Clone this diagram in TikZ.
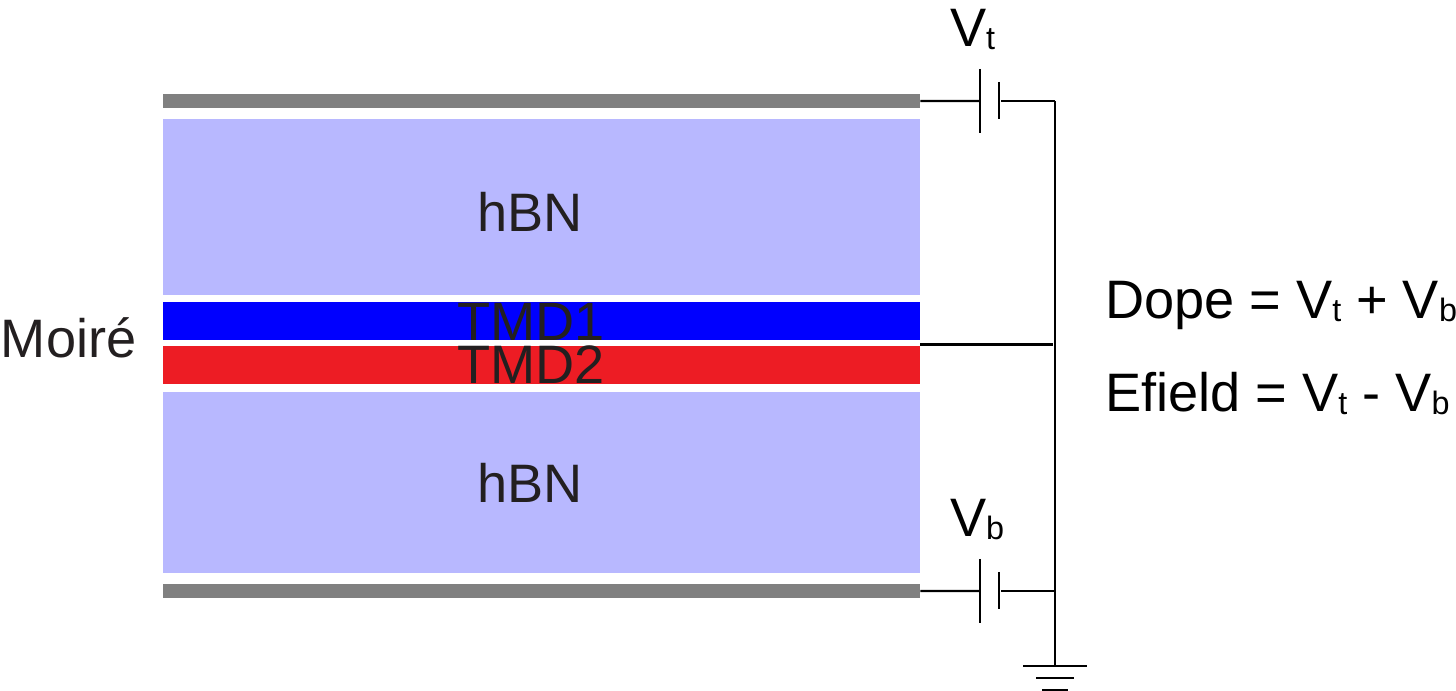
\documentclass[tikz,border=0pt]{standalone}
\usepackage{fontspec}
\setmainfont{Liberation Sans}
\usepackage{tikz}

\definecolor{hbnBlue}{RGB}{184,184,255}
\definecolor{gateGray}{RGB}{128,128,128}
\definecolor{tmdRed}{RGB}{237,28,36}
\definecolor{inkDark}{RGB}{35,31,32}

\newcommand{\lowtxt}[1]{\raisebox{-0.6pt}{\fontsize{9.2}{12}\selectfont #1}}

\tikzset{
    layer/.style={inner sep=0pt, outer sep=0pt, minimum width=7.57cm, anchor=north west},
    bigtxt/.style={inner sep=0pt, outer sep=0pt, anchor=base, font=\fontsize{15.4}{18}\selectfont},
    wire/.style={line width=0.6pt, black},
    bus/.style={line width=0.75pt, black}
}

\begin{document}
\begin{tikzpicture}[x=0.01cm,y=-0.01cm]
        \useasboundingbox (0,0) rectangle (1456,691);

        % layers
        \node[layer, fill=gateGray, minimum height=0.14cm] (gateT) at (163,94) {};
        \node[layer, fill=hbnBlue, minimum height=1.76cm] (hbnT) at (163,119) {};
        \node[layer, fill=blue, minimum height=0.38cm] (tmdA) at (163,302) {};
        \node[layer, fill=tmdRed, minimum height=0.38cm] (tmdB) at (163,346) {};
        \node[layer, fill=hbnBlue, minimum height=1.81cm] (hbnB) at (163,392) {};
        \node[layer, fill=gateGray, minimum height=0.14cm] (gateB) at (163,584) {};

        \node[bigtxt, text=inkDark] (hbnTtxt) at (530,232) {hBN};
        \node[bigtxt, text=inkDark] (tmdAtxt) at (531,341) {TMD1};
        \node[bigtxt, text=inkDark] (tmdBtxt) at (531,384) {TMD2};
        \node[bigtxt, text=inkDark] (hbnBtxt) at (530,503) {hBN};
        \node[bigtxt, text=inkDark, anchor=base west] (moire) at (1,358) {Moiré};

        % batteries
        \coordinate (longTu) at (980,69);
        \coordinate (longTd) at (980,133);
        \coordinate (shortTu) at (999,82);
        \coordinate (shortTd) at (999,119);
        \coordinate (shortTm) at (1001,101);
        \coordinate (longTm) at (980,101);
        \coordinate (longBu) at (980,559);
        \coordinate (longBd) at (980,623);
        \coordinate (shortBu) at (999,572);
        \coordinate (shortBd) at (999,609);
        \coordinate (shortBm) at (1001,591);
        \coordinate (longBm) at (980,591);

        \coordinate (busT) at (1055,101);
        \coordinate (busM) at (1053,344.5);
        \coordinate (busB) at (1055,591);
        \coordinate (gnd) at (1055,666);

        \draw[wire] (longTu) -- (longTd);
        \draw[wire] (shortTu) -- (shortTd);
        \draw[wire] (longBu) -- (longBd);
        \draw[wire] (shortBu) -- (shortBd);

        \draw[wire] (gateT.east) -- (longTm);
        \draw[wire] (gateB.east) -- (longBm);
        \draw[wire] (shortBm) -- (busB);
        \draw[wire] (tmdA.south east |- busM) -- (busM);
        \draw[wire] (shortTm) -- (busT);
        \draw[bus] (busT) -- (gnd);

        % ground
        \draw[bus] (1023,666) coordinate (gndA) -- (1087,666) coordinate (gndB);
        \draw[bus] (1036,678) coordinate (gndC) -- (1074,678) coordinate (gndD);
        \draw[bus] (1042,690) coordinate (gndE) -- (1068,690) coordinate (gndF);

        % labels
        \node[bigtxt, anchor=base west] (vt) at (950,47) {V\lowtxt{t}};
        \node[bigtxt, anchor=base west] (vb) at (950,537) {V\lowtxt{b}};
        \node[bigtxt, anchor=base west] (dope) at (1105,319) {Dope = V\lowtxt{t} + V\lowtxt{b}};
        \node[bigtxt, anchor=base west] (efield) at (1105,412) {Efield = V\lowtxt{t} - V\lowtxt{b}};
    \end{tikzpicture}
\end{document}
